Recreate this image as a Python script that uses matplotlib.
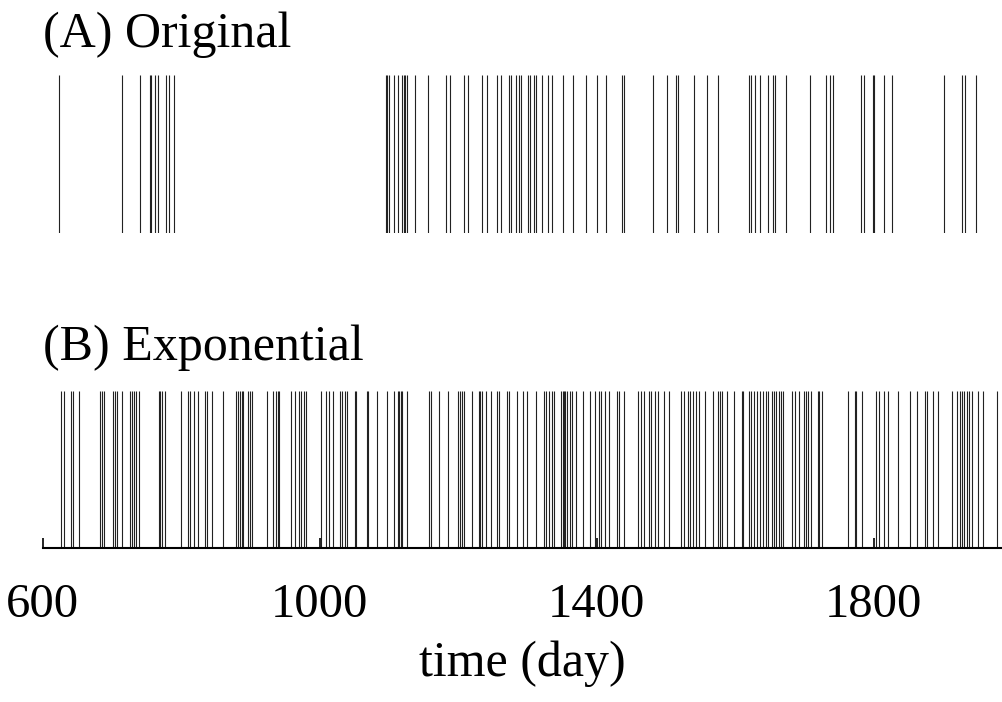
import matplotlib
matplotlib.use("Agg")
import matplotlib.pyplot as plt

# event times (day)
original = [624, 714, 741, 755, 757, 762, 767, 778, 782, 789,
            1096, 1098, 1100, 1107, 1113, 1119, 1122, 1123, 1126, 1138,
            1156, 1182, 1189, 1208, 1215, 1234, 1241, 1256, 1262, 1273,
            1277, 1283, 1288, 1291, 1301, 1304, 1309, 1312, 1321, 1330,
            1335, 1351, 1366, 1384, 1401, 1414, 1437, 1440, 1482, 1501,
            1514, 1518, 1540, 1559, 1575, 1620, 1623, 1629, 1636, 1647,
            1655, 1657, 1674, 1708, 1731, 1737, 1741, 1782, 1786, 1799,
            1801, 1815, 1827, 1902, 1928, 1932, 1948]

exponential = [626, 631, 641, 644, 652, 683, 686, 689, 701, 704,
               708, 714, 726, 729, 732, 735, 739, 768, 770, 772,
               776, 800, 810, 813, 818, 824, 834, 838, 844, 860,
               879, 882, 885, 888, 890, 897, 899, 903, 924, 932,
               937, 940, 941, 958, 964, 970, 973, 977, 980, 1002,
               1009, 1013, 1019, 1029, 1032, 1036, 1039, 1051, 1053, 1068,
               1070, 1083, 1097, 1107, 1113, 1115, 1117, 1119, 1126, 1158,
               1161, 1172, 1186, 1200, 1203, 1205, 1208, 1220, 1230, 1232,
               1235, 1240, 1248, 1256, 1259, 1270, 1273, 1285, 1294, 1300,
               1312, 1324, 1327, 1331, 1335, 1338, 1349, 1351, 1353, 1355,
               1357, 1361, 1364, 1370, 1381, 1390, 1397, 1403, 1407, 1412,
               1418, 1430, 1433, 1439, 1460, 1464, 1468, 1475, 1478, 1484,
               1489, 1497, 1504, 1522, 1526, 1532, 1535, 1539, 1543, 1548,
               1557, 1568, 1576, 1578, 1581, 1588, 1599, 1610, 1612, 1620,
               1623, 1627, 1632, 1636, 1640, 1644, 1648, 1653, 1656, 1659,
               1664, 1666, 1669, 1682, 1686, 1693, 1699, 1703, 1705, 1709,
               1720, 1721, 1726, 1763, 1773, 1775, 1784, 1804, 1808, 1815,
               1821, 1836, 1852, 1863, 1874, 1877, 1886, 1893, 1914, 1921,
               1925, 1928, 1931, 1935, 1938, 1942, 1951, 1958, 1978]

xticks = [600, 1000, 1400, 1800]
titles = ["(A) Original", "(B) Exponential"]

plt.rcParams['font.family'] = ['Liberation Serif', 'DejaVu Serif']

fig = plt.figure(figsize=(10.03, 7.02), dpi=100)
x0 = 42.7 / 1003
w = 1 - x0
axA = fig.add_axes([x0, 0.668, w, 0.225])
axB = fig.add_axes([x0, 0.219, w, 0.224])

for ax, data in [(axA, original), (axB, exponential)]:
    ax.vlines(data, 0, 1, colors='#222222', linewidth=0.8)
    ax.set_xlim(600, 1987)
    ax.set_ylim(0, 1)
    ax.set_yticks([])
    for s in ['top', 'left', 'right']:
        ax.spines[s].set_visible(False)

axA.spines['bottom'].set_visible(False)
axA.set_xticks([])

axB.spines['bottom'].set_linewidth(1.5)
axB.set_xticks(xticks)
axB.tick_params(axis='x', direction='in', length=7, width=1.2,
                labelsize=35, pad=25)
axB.set_xlabel('time (day)', fontsize=36, labelpad=10)

fig.text(x0, 1 - 47 / 702, titles[0], fontsize=36, va='baseline', ha='left')
fig.text(x0, 1 - 360 / 702, titles[1], fontsize=36, va='baseline', ha='left')

fig.savefig('out.png', dpi=100)
